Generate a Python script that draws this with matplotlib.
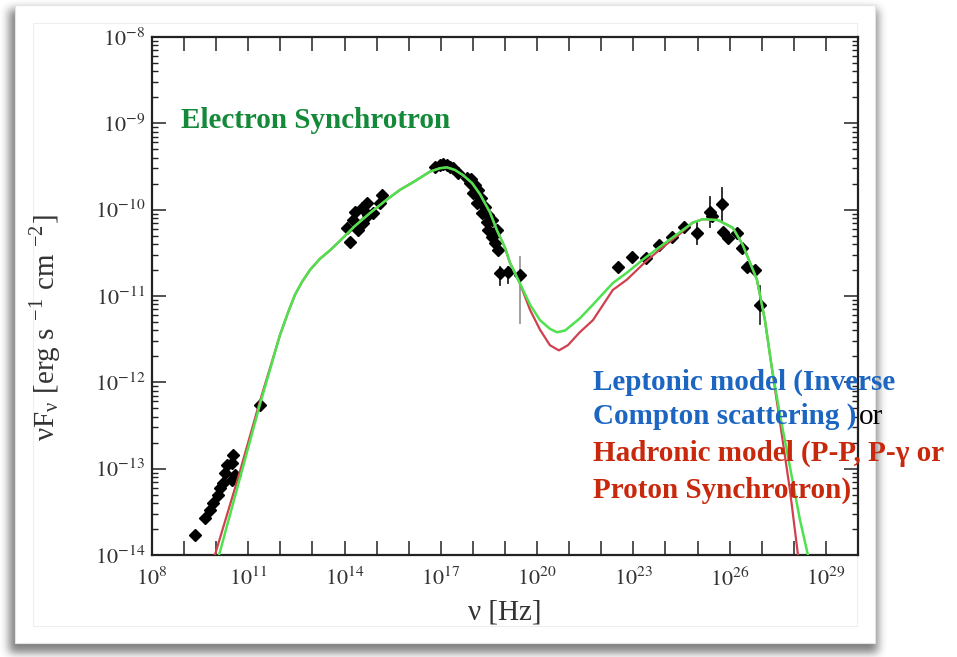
"""Broadband SED of a blazar with leptonic / hadronic model curves."""

import numpy as np
import matplotlib
matplotlib.use('Agg')
import matplotlib.pyplot as plt
from matplotlib.patches import Rectangle
from matplotlib.ticker import LogLocator, NullLocator, NullFormatter

# model curves: log10(nu/Hz), log10(nuFnu / erg s-1 cm-2)
lepto_lognu = [10.09, 10.74, 11.36, 11.99, 12.24, 12.45, 12.67, 12.92, 13.23, 13.55,
               13.86, 14.32, 14.79, 15.26, 15.73, 16.19, 16.66, 16.97, 17.19, 17.44,
               17.69, 17.97, 18.22, 18.53, 18.75, 19.00, 19.15, 19.46, 19.78, 20.09,
               20.40, 20.62, 20.87, 21.33, 21.74, 22.36, 22.80, 23.36, 23.83, 24.45,
               24.85, 25.17, 25.63, 26.10, 26.41, 26.63, 26.85, 27.10, 27.31, 27.56,
               27.88, 28.19, 28.44]
lepto_logf = [-14.00, -13.11, -12.26, -11.45, -11.19, -10.99, -10.84, -10.70, -10.57, -10.47,
              -10.36, -10.19, -10.04, -9.90, -9.77, -9.67, -9.56, -9.52, -9.51, -9.54,
              -9.60, -9.69, -9.82, -10.03, -10.24, -10.44, -10.61, -10.85, -11.10, -11.28,
              -11.38, -11.42, -11.40, -11.26, -11.10, -10.85, -10.73, -10.56, -10.43, -10.26,
              -10.15, -10.11, -10.12, -10.21, -10.41, -10.61, -10.81, -11.28, -11.82, -12.36,
              -12.98, -13.59, -14.00]

hadro_lognu = [9.96, 10.68, 11.33, 11.99, 12.24, 12.45, 12.67, 12.92, 13.23, 13.55,
               13.86, 14.32, 14.79, 15.26, 15.73, 16.19, 16.66, 16.97, 17.19, 17.44,
               17.69, 17.97, 18.22, 18.53, 18.75, 19.00, 19.15, 19.46, 19.78, 20.09,
               20.40, 20.68, 20.96, 21.33, 21.74, 22.36, 22.80, 23.36, 23.83, 24.45,
               24.85, 25.17, 25.63, 26.10, 26.41, 26.63, 26.85, 27.10, 27.31, 27.56,
               27.88, 28.13]
hadro_logf = [-14.00, -13.11, -12.26, -11.45, -11.19, -10.99, -10.84, -10.70, -10.57, -10.47,
              -10.36, -10.19, -10.04, -9.90, -9.77, -9.67, -9.56, -9.52, -9.51, -9.54,
              -9.60, -9.69, -9.82, -10.03, -10.24, -10.44, -10.61, -10.85, -11.16, -11.39,
              -11.57, -11.63, -11.57, -11.42, -11.28, -10.93, -10.81, -10.61, -10.46, -10.28,
              -10.15, -10.11, -10.12, -10.21, -10.41, -10.61, -10.81, -11.28, -11.82, -12.44,
              -13.25, -14.00]

# observed fluxes (no visible error bars)
obs_lognu = [9.34, 9.65, 9.81, 9.90, 10.06, 10.12, 10.21, 10.27, 10.34, 10.52, 10.49, 10.49,
             10.59, 11.36,
             14.17, 14.07, 14.26, 14.32, 14.54, 14.70, 14.73, 14.88, 15.17, 15.10, 14.57, 14.42,
             16.82, 16.97, 17.08, 17.19, 17.30, 17.38, 17.53, 17.81, 17.91, 18.00, 18.12, 18.28,
             18.44, 18.47, 18.59, 18.69, 18.78, 17.95, 18.05, 18.16, 18.26, 18.37, 18.48, 18.59,
             18.75,
             22.52, 22.95, 23.39, 23.79, 24.20, 24.57, 25.46, 25.79, 25.94, 26.22, 26.38, 26.54,
             26.79]
obs_logf = [-13.77, -13.57, -13.48, -13.40, -13.31, -13.22, -13.17, -13.05, -12.96, -12.84, -12.93,
            -13.13, -13.07, -12.26,
            -10.37, -10.21, -10.12, -10.03, -9.98, -9.92, -10.06, -10.04, -9.83, -9.92, -10.15,
            -10.24,
            -9.51, -9.48, -9.47, -9.48, -9.50, -9.52, -9.58, -9.63, -9.69, -9.81, -9.92, -10.04,
            -10.14, -10.24, -10.32, -10.39, -10.47, -9.65, -9.72, -9.77, -9.87, -9.97, -10.06,
            -10.12, -10.24,
            -10.66, -10.55, -10.56, -10.41, -10.32, -10.20, -10.07, -10.26, -10.33, -10.27, -10.44,
            -10.66, -10.70]

# observed fluxes with error bars
err_lognu = [18.84, 19.09, 19.46, 24.98, 25.38, 25.76, 26.94]
err_logf = [-10.73, -10.72, -10.76, -10.27, -10.03, -9.93, -11.10]
err_lo = [-10.87, -10.85, -11.31, -10.40, -10.20, -10.12, -11.33]
err_hi = [-10.66, -10.66, -10.55, -10.14, -9.85, -9.75, -10.88]
err_colors = ['#222222', '#222222', '#999999', '#222222', '#222222', '#222222', '#333333']

x_decades = list(range(8, 31))
y_decades = list(range(-14, -7))

GREEN = '#4ee24e'
RED = '#d0404e'

plt.rcParams['font.family'] = ['Liberation Serif', 'DejaVu Serif']
plt.rcParams['mathtext.fontset'] = 'stix'

W, H = 957, 657
fig = plt.figure(figsize=(W / 100, H / 100), dpi=100)
fig.patch.set_facecolor('white')

# background "photo card" with a soft drop shadow, in pixel coordinates
bg = fig.add_axes([0, 0, 1, 1])
bg.set_xlim(0, W)
bg.set_ylim(H, 0)
bg.axis('off')

yy, xx = np.mgrid[0:H, 0:W]
mask = ((xx >= 9) & (xx <= 877) & (yy >= 9) & (yy <= 652)).astype(float)
kern = np.ones(9) / 9.0
for _ in range(3):
    mask = np.apply_along_axis(lambda m: np.convolve(m, kern, mode='same'), 0, mask)
    mask = np.apply_along_axis(lambda m: np.convolve(m, kern, mode='same'), 1, mask)
shadow = np.zeros((H, W, 4))
shadow[..., 3] = 0.5 * mask
bg.imshow(shadow, extent=(0, W, H, 0), interpolation='bilinear', aspect='auto')
bg.add_patch(Rectangle((15, 5), 860, 638, facecolor='white', edgecolor='#e4e4e4', lw=0.8))
bg.add_patch(Rectangle((33, 23), 824, 603, facecolor='white', edgecolor='#eeeeee', lw=0.8))

ax = fig.add_axes([152 / W, 1 - 555 / H, (858 - 152) / W, (555 - 37) / H])
ax.set_facecolor('none')
ax.set_xscale('log')
ax.set_yscale('log')

ax.plot(10.0 ** np.array(hadro_lognu), 10.0 ** np.array(hadro_logf), color=RED, lw=1.6, zorder=3)
ax.plot(10.0 ** np.array(lepto_lognu), 10.0 ** np.array(lepto_logf), color=GREEN, lw=1.8, zorder=4)

ax.plot(10.0 ** np.array(obs_lognu), 10.0 ** np.array(obs_logf), 'D', color='black', ms=6,
        zorder=2)
for lx, lf, lo, hi, c in zip(err_lognu, err_logf, err_lo, err_hi, err_colors):
    ax.plot([10.0 ** lx] * 2, [10.0 ** lo, 10.0 ** hi], color=c, lw=1.3, zorder=1)
ax.plot(10.0 ** np.array(err_lognu), 10.0 ** np.array(err_logf), 'D', color='black', ms=6,
        zorder=2)

ax.set_xlim(1e8, 1e30)
ax.set_ylim(1e-14, 1e-8)

ax.set_xticks([10.0 ** d for d in x_decades],
              [r'$10^{%d}$' % d if (d - 8) % 3 == 0 else '' for d in x_decades])
ax.xaxis.set_minor_locator(NullLocator())
ax.set_yticks([10.0 ** d for d in y_decades], [r'$10^{%d}$' % d for d in y_decades])
ax.yaxis.set_minor_locator(LogLocator(base=10, subs=np.arange(2, 10), numticks=30))
ax.yaxis.set_minor_formatter(NullFormatter())

ax.tick_params(which='both', direction='in', top=True, right=True, color='#222222')
ax.tick_params(which='major', length=10, width=1.2, labelsize=16, colors='#333333')
ax.tick_params(axis='x', which='major', pad=9)
ax.tick_params(axis='y', which='major', pad=5)
ax.tick_params(which='minor', length=4.5, width=1.0)
for sp in ax.spines.values():
    sp.set_linewidth(1.6)
    sp.set_color('#222222')

ax.set_ylabel('\u03bdF$_{\\mathregular{\u03bd}}$ [erg s $^{\\mathregular{-1}}$ cm $^{\\mathregular{-2}}$]',
              fontsize=21, color='#333333')
ax.yaxis.set_label_coords(-0.125, 0.44)
ax.set_xlabel('\u03bd [Hz]', fontsize=21, color='#333333')
ax.xaxis.set_label_coords(0.5, -0.085)

# annotations (pixel coordinates of the card)
tk = dict(transform=bg.transData, fontsize=21, fontweight='bold', va='baseline', zorder=10)
fig.text(181, 128, 'Electron Synchrotron', color='#15893a', **tk)
fig.text(593, 390, 'Leptonic model (Inverse', color='#1c66c2', **tk)
t_comp = fig.text(593, 424, 'Compton scattering )', color='#1c66c2', **tk)
fig.text(593, 461, 'Hadronic model (P-P, P-\u03b3 or', color='#c8280c', **tk)
fig.text(593, 498, 'Proton Synchrotron)', color='#c8280c', **tk)

fig.canvas.draw()
x_end = bg.transData.inverted().transform((t_comp.get_window_extent().x1, 0))[0]
fig.text(x_end + 2, 424, 'or', transform=bg.transData, fontsize=21, color='black',
         va='baseline', zorder=10)

fig.savefig('out.png', dpi=100)
